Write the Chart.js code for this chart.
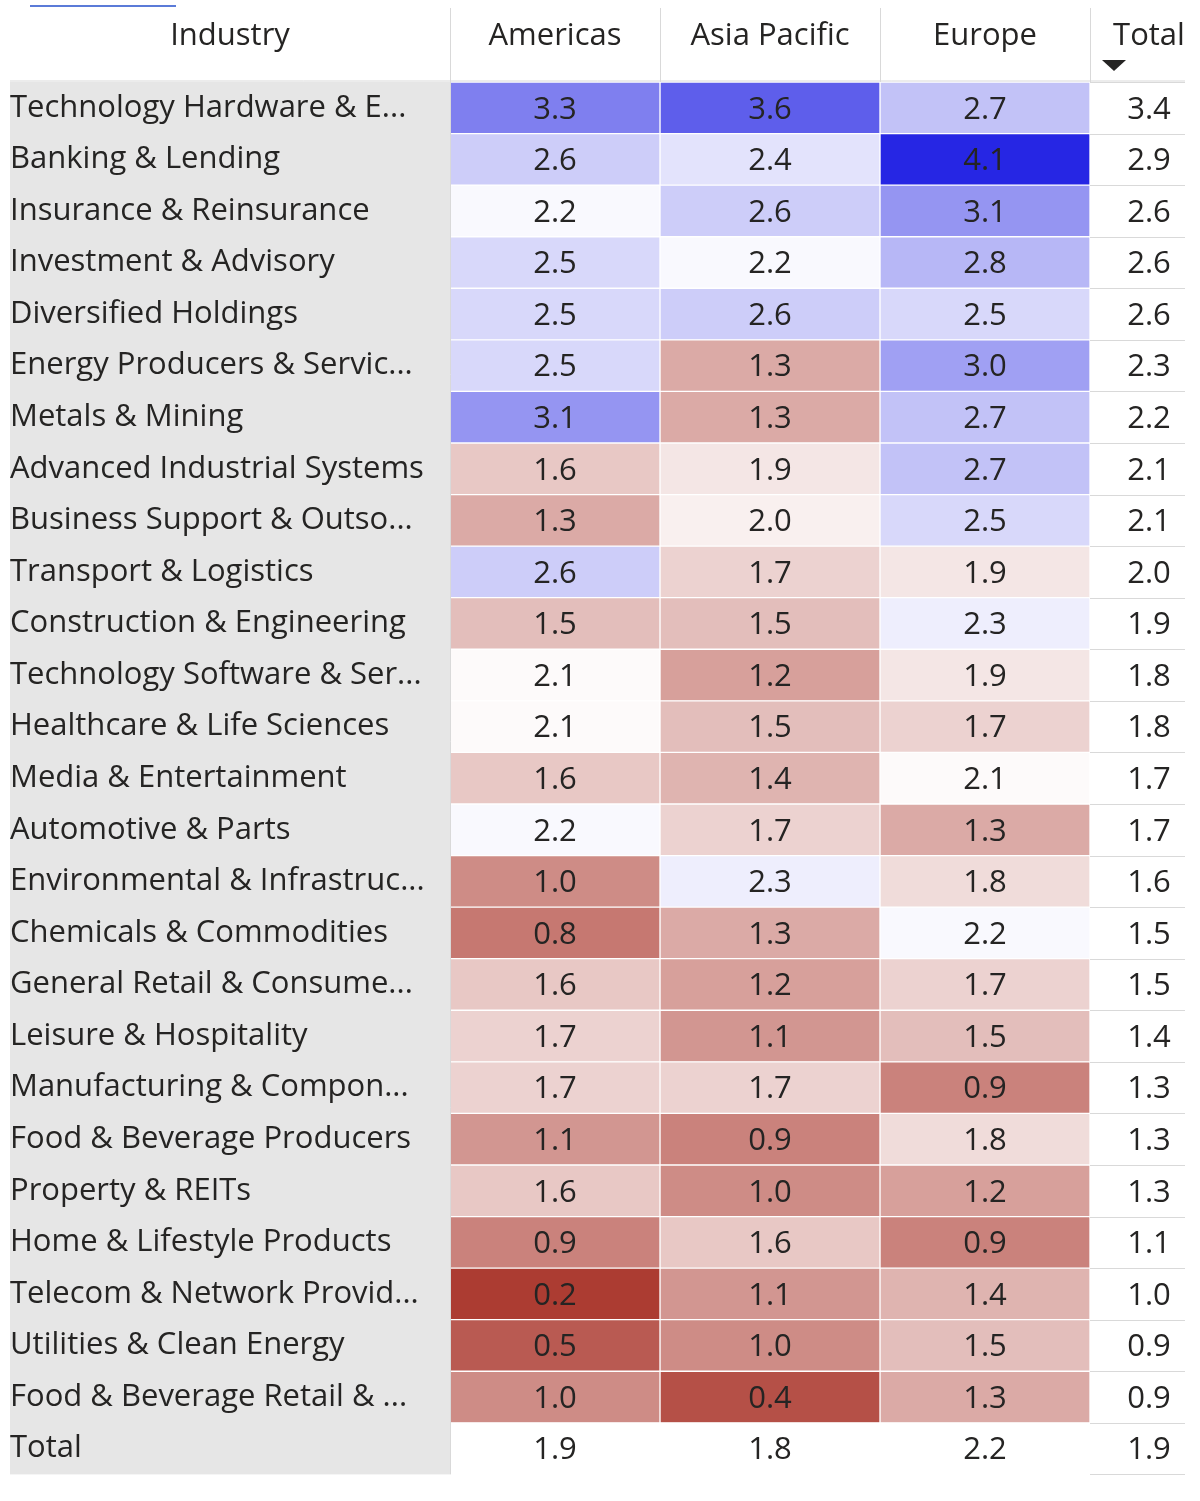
<!DOCTYPE html>
<html><head><meta charset="utf-8">
<script src="https://cdn.jsdelivr.net/npm/chart.js@4"></script>
<style>html,body{margin:0;background:#fff}#wrap{width:1200px;height:1501px}</style>
</head><body><div id="wrap"><canvas id="c"></canvas></div>
<script>
const industries = ['Technology Hardware & E...','Banking & Lending','Insurance & Reinsurance','Investment & Advisory','Diversified Holdings','Energy Producers & Servic...','Metals & Mining','Advanced Industrial Systems','Business Support & Outso...','Transport & Logistics','Construction & Engineering','Technology Software & Ser...','Healthcare & Life Sciences','Media & Entertainment','Automotive & Parts','Environmental & Infrastruc...','Chemicals & Commodities','General Retail & Consume...','Leisure & Hospitality','Manufacturing & Compon...','Food & Beverage Producers','Property & REITs','Home & Lifestyle Products','Telecom & Network Provid...','Utilities & Clean Energy','Food & Beverage Retail & ...','Total'];
const columns = ['Americas','Asia Pacific','Europe','Total'];
const americas = [3.3,2.6,2.2,2.5,2.5,2.5,3.1,1.6,1.3,2.6,1.5,2.1,2.1,1.6,2.2,1.0,0.8,1.6,1.7,1.7,1.1,1.6,0.9,0.2,0.5,1.0,1.9];
const asiaPacific = [3.6,2.4,2.6,2.2,2.6,1.3,1.3,1.9,2.0,1.7,1.5,1.2,1.5,1.4,1.7,2.3,1.3,1.2,1.1,1.7,0.9,1.0,1.6,1.1,1.0,0.4,1.8];
const europe = [2.7,4.1,3.1,2.8,2.5,3.0,2.7,2.7,2.5,1.9,2.3,1.9,1.7,2.1,1.3,1.8,2.2,1.7,1.5,0.9,1.8,1.2,0.9,1.4,1.5,1.3,2.2];
const total = [3.4,2.9,2.6,2.6,2.6,2.3,2.2,2.1,2.1,2.0,1.9,1.8,1.8,1.7,1.7,1.6,1.5,1.5,1.4,1.3,1.3,1.3,1.1,1.0,0.9,0.9,1.9];
const series = [americas, asiaPacific, europe, total];
// column edges on the x scale (pixel-like units)
const edges = [0,210,430,640,735];

function cellColor(v, col, row) {
  if (col === 3 || row === industries.length - 1) return '#ffffff';
  const mid = 2.15;
  let t, c;
  if (v >= mid) { t = Math.min(1,(v-mid)/(4.1-mid)); c = [38,38,228]; }
  else { t = Math.min(1,(mid-v)/(mid-0.2)); c = [172,60,50]; }
  const m = i => Math.round(255 + (c[i]-255)*t);
  return `rgb(${m(0)},${m(1)},${m(2)})`;
}

const datasets = series.map((vals, ci) => ({
  label: columns[ci],
  data: vals.map(() => [edges[ci], edges[ci+1]]),
  backgroundColor: vals.map((v, ri) => cellColor(v, ci, ri)),
  borderColor: '#ffffff', borderWidth: 1, borderSkipped: false,
  barPercentage: 1, categoryPercentage: 1, grouped: false
}));

const tablePlugin = {
  id: 'table',
  beforeDraw(chart) {
    const {ctx, chartArea: a, scales: {y}} = chart;
    ctx.save();
    ctx.fillStyle = '#e6e6e6';
    ctx.fillRect(10, a.top, a.left - 10, a.bottom - a.top);
    ctx.restore();
  },
  afterDatasetsDraw(chart) {
    const {ctx, chartArea: a, scales: {x, y}} = chart;
    ctx.save();
    // grey lines in total column
    ctx.strokeStyle = '#d9d9d9'; ctx.lineWidth = 1;
    for (let i = 0; i <= industries.length; i++) {
      const yy = Math.round(y.getPixelForValue(i - 0.5)) + 0.5;
      ctx.beginPath(); ctx.moveTo(x.getPixelForValue(edges[3]), yy); ctx.lineTo(a.right, yy); ctx.stroke();
    }
    // vertical separators in header and body
    edges.slice(1, 4).forEach(e => {
      const xx = Math.round(x.getPixelForValue(e)) + 0.5;
      ctx.beginPath(); ctx.moveTo(xx, 8); ctx.lineTo(xx, a.top); ctx.stroke();
    });
    const lx = a.left + 0.5;
    ctx.beginPath(); ctx.moveTo(lx, 8); ctx.lineTo(lx, a.bottom); ctx.stroke();
    ctx.beginPath(); ctx.moveTo(10, a.top - 1); ctx.lineTo(a.right, a.top - 1); ctx.stroke();
    // values
    ctx.fillStyle = '#252423';
    ctx.font = '31px "Open Sans", sans-serif';
    ctx.textAlign = 'center'; ctx.textBaseline = 'middle';
    series.forEach((vals, ci) => {
      const cx = ci === 3 ? x.getPixelForValue(edges[4]) - 36 : x.getPixelForValue((edges[ci] + edges[ci+1]) / 2);
      vals.forEach((v, ri) => ctx.fillText(v.toFixed(1), cx, y.getPixelForValue(ri) + 2));
    });
    // header
    ctx.font = '31px "Open Sans", sans-serif';
    ctx.fillText('Industry', 230, 36);
    columns.forEach((c, ci) => {
      const cx = ci === 3 ? x.getPixelForValue(edges[4]) - 36 : x.getPixelForValue((edges[ci] + edges[ci+1]) / 2);
      ctx.fillText(c, cx, 36);
    });
    // sort arrow under Total
    ctx.fillStyle = '#252423';
    ctx.beginPath(); ctx.moveTo(1102, 60); ctx.lineTo(1126, 60); ctx.lineTo(1114, 71); ctx.closePath(); ctx.fill();
    // small blue line top left
    ctx.strokeStyle = '#5b7bd8'; ctx.lineWidth = 2;
    ctx.beginPath(); ctx.moveTo(30, 6); ctx.lineTo(176, 6); ctx.stroke();
    ctx.restore();
  }
};

new Chart(document.getElementById('c'), {
  type: 'bar',
  data: { labels: industries, datasets },
  options: {
    indexAxis: 'y', responsive: true, maintainAspectRatio: false, animation: false,
    layout: { padding: { top: 82, left: 10, right: 15, bottom: 19 } },
    plugins: { legend: { display: false }, tooltip: { enabled: false } },
    scales: {
      x: { display: false, min: 0, max: 735 },
      y: {
        grid: { display: false }, border: { display: false },
        afterFit(s) { s.width = 440; },
        ticks: { crossAlign: 'far', padding: 8, color: '#252423', autoSkip: false,
          font: { size: 31, family: '"Open Sans", sans-serif' } }
      }
    }
  },
  plugins: [tablePlugin]
});
</script></body></html>
